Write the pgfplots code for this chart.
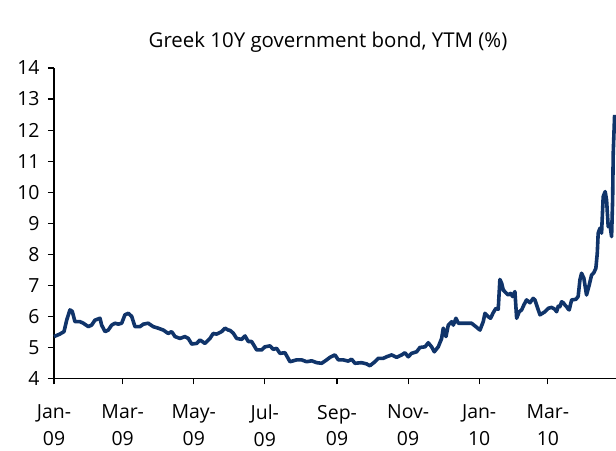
\documentclass[border=0pt]{standalone}
\usepackage{pgfplots}
\pgfplotsset{compat=1.18}
\usepackage{fontspec}
\setmainfont{Open Sans}
\definecolor{navy}{RGB}{16,52,106}
\begin{document}
\begin{tikzpicture}[x=1bp,y=1bp]
\useasboundingbox (0,0) rectangle (616,451);
\begin{axis}[
  at={(54bp,72.5bp)}, anchor=south west,
  scale only axis, width=562bp, height=310.5bp,
  axis x line*=bottom, axis y line*=left,
  axis line style={-, line width=1.3bp, black},
  xmin=0, xmax=482.5, ymin=4, ymax=14,
  ytick={4,5,...,14},
  xtick={0,59,120,181,243,304,365,424},
  xticklabels={{Jan-\\09},{Mar-\\09},{May-\\09},{Jul-\\09},{Sep-\\09},{Nov-\\09},{Jan-\\10},{Mar-\\10}},
  tick align=outside, major tick length=6bp,
  tick style={black, line width=1.1bp},
  xticklabel style={align=center, font=\fontsize{19.5}{27}\selectfont, yshift=-17bp},
  yticklabel style={font=\fontsize{19.5}{22}\selectfont, xshift=-5bp},
  /pgf/number format/assume math mode=true,
  clip=false,
]
\addplot[navy, line width=3.6bp, line join=round] coordinates {
(0,5.35) (5,5.43) (8.6,5.51) (10.9,5.88) (13.7,6.21) (15.7,6.16) (18,5.83) (22.3,5.83)
(25.2,5.78) (29.5,5.67) (32.3,5.72) (35.2,5.88) (39.5,5.94) (40.9,5.72) (43.8,5.51)
(46.6,5.56) (49.5,5.72) (52.4,5.78) (55.2,5.75) (58.1,5.78) (60.9,6.05) (63.8,6.10)
(66.7,6.00) (69.5,5.67) (73.8,5.67) (76.7,5.75) (80.9,5.78) (85.2,5.67) (89.5,5.62)
(93.8,5.56) (98.1,5.45) (101,5.51) (103.9,5.35) (108.2,5.29) (112.4,5.35) (115.3,5.29)
(118.2,5.11) (122.5,5.13) (125.3,5.24) (129.6,5.13) (133.9,5.29) (136.7,5.45) (139.6,5.43)
(143.9,5.51) (146.8,5.62) (149.6,5.56) (151.1,5.55) (153.9,5.46) (156.8,5.29) (161.1,5.26)
(164,5.37) (166.8,5.19) (169.7,5.19) (174,4.92) (178.3,4.92) (181.1,5.02) (185.4,5.05)
(188.3,4.94) (191.1,4.97) (194,4.81) (198.3,4.83) (202.6,4.54) (208.3,4.60) (212.6,4.60)
(216.9,4.54) (221.2,4.57) (225.5,4.51) (229.8,4.49) (234.1,4.60) (236.9,4.68) (241.2,4.76)
(244.1,4.60) (248.3,4.60) (252.6,4.56) (255.5,4.62) (258.4,4.49) (264.1,4.51) (268.4,4.47)
(271.2,4.41) (275.5,4.54) (278.4,4.65) (282.7,4.65) (285.6,4.70) (289.9,4.76) (294.2,4.68)
(298.5,4.76) (301.3,4.83) (304.1,4.70) (307,4.81) (311.3,4.86) (314.2,5.00) (318.5,5.02)
(321.3,5.15) (324.2,5.02) (326.5,4.86) (329.9,5.02) (332.8,5.29) (334.2,5.62) (336.5,5.35)
(338.5,5.72) (341.4,5.83) (342.8,5.72) (345.1,5.94) (347.1,5.78) (351.4,5.78) (358.5,5.78)
(362.8,5.65) (365.7,5.56) (368.5,5.83) (370,6.10) (372.8,5.99) (374.8,5.94) (377.1,6.12)
(379.4,6.26) (381.4,6.23) (382.8,7.19) (384.3,7.07) (385.7,6.85) (388,6.76) (390,6.69)
(392,6.74) (393.7,6.64) (395.7,6.80) (397.2,5.94) (399.4,6.15) (401.5,6.21) (403.4,6.37)
(405.7,6.53) (408.6,6.44) (411.4,6.58) (412.9,6.53) (414.3,6.37) (417.2,6.05) (421.5,6.15)
(424.3,6.26) (427.2,6.29) (430,6.23) (431.5,6.15) (432.9,6.33) (434.3,6.31) (435.8,6.47)
(437.2,6.44) (438.6,6.37) (440.1,6.31) (441.5,6.23) (442.3,6.21) (444.4,6.53) (448.1,6.55)
(450,6.64) (451.5,7.17) (452.9,7.39) (454.9,7.23) (457.2,6.69) (459.5,7.01) (461.5,7.33)
(463.5,7.41) (465.2,7.55) (466.4,8.03) (467.2,8.68) (468.7,8.84) (470.1,8.68) (471.5,9.86)
(473.2,10.02) (474.4,9.75) (475.8,8.89) (477.3,8.94) (478.7,8.57) (479.6,9.75) (480.1,11.25)
(481.3,12.49)
};
\end{axis}
\node[font=\fontsize{20.5}{24}\selectfont] at (328,409) {Greek 10Y government bond, YTM (\%)};
\end{tikzpicture}
\end{document}
